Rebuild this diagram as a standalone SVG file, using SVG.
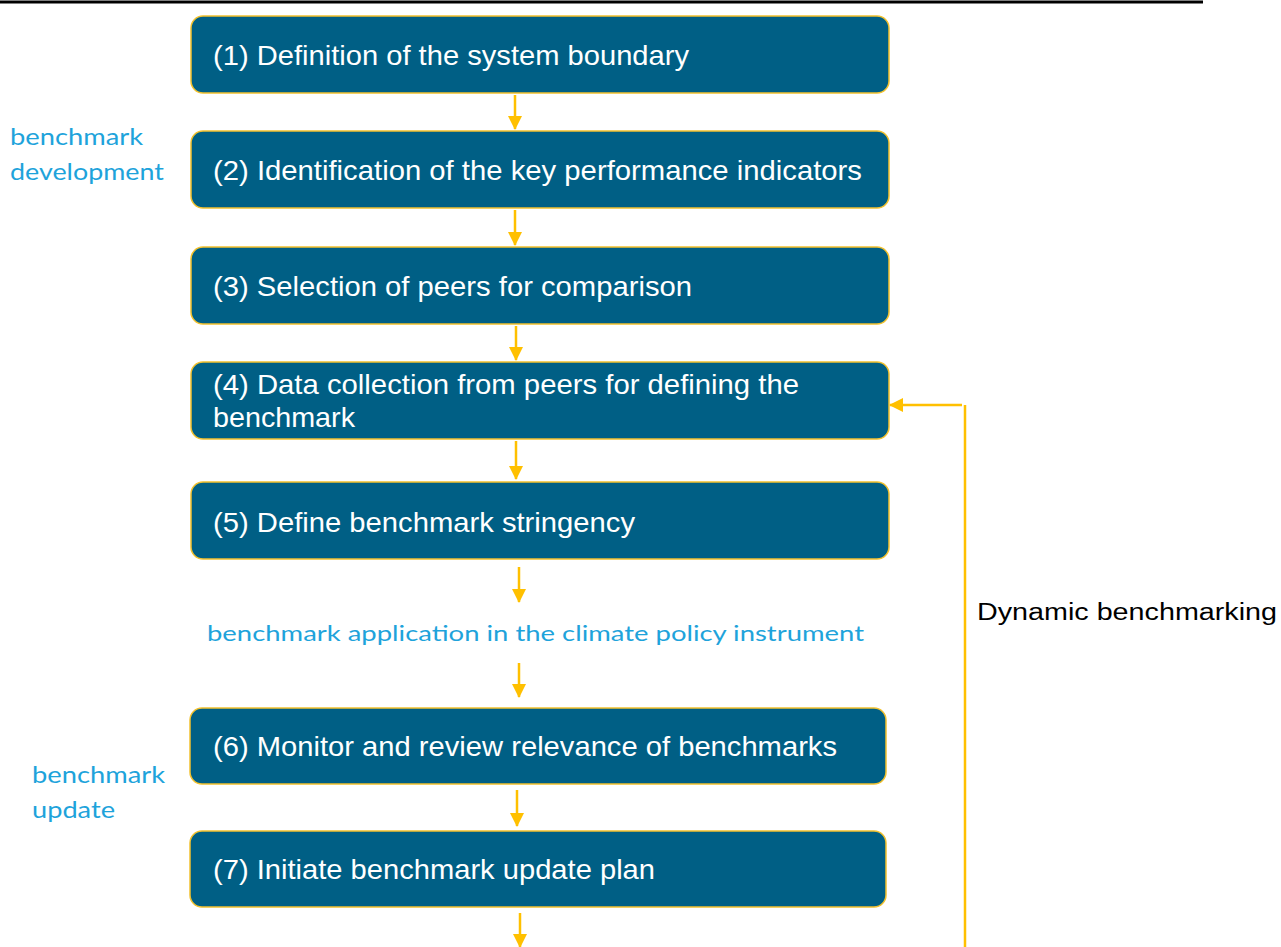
<svg xmlns="http://www.w3.org/2000/svg" width="1281" height="947" viewBox="0 0 1281 947">
<style>
.box{fill:#005F85;stroke:#F2C12E;stroke-width:1.5}
.bt{font-family:"Liberation Sans",Arial,sans-serif;font-size:28px;fill:#ffffff}
.lbl{font-family:Lato,"Open Sans",sans-serif;font-size:24px;fill:#1EA3DB}
.con{stroke:#FFC000;stroke-width:2.5;fill:none}
</style>
<defs>
<marker id="ah" markerWidth="14" markerHeight="14" refX="13" refY="7" orient="auto" markerUnits="userSpaceOnUse">
<path d="M0,0 L14,7 L0,14 z" fill="#FFC000"/>
</marker>
</defs>
<rect width="1281" height="947" fill="#ffffff"/>
<line x1="0" y1="2" x2="1203" y2="2" stroke="#000" stroke-width="3"/>

<g id="n1"><rect class="box" x="191" y="16" width="698" height="77" rx="12"/><text class="bt" x="213" y="65" textLength="476" lengthAdjust="spacingAndGlyphs">(1) Definition of the system boundary</text></g>
<g id="n2"><rect class="box" x="191" y="131" width="698" height="77" rx="12"/><text class="bt" x="213" y="180" textLength="649" lengthAdjust="spacingAndGlyphs">(2) Identification of the key performance indicators</text></g>
<g id="n3"><rect class="box" x="191" y="247" width="698" height="77" rx="12"/><text class="bt" x="213" y="296" textLength="479" lengthAdjust="spacingAndGlyphs">(3) Selection of peers for comparison</text></g>
<g id="n4"><rect class="box" x="191" y="362" width="698" height="77" rx="12"/><text class="bt" x="213" y="394" textLength="586" lengthAdjust="spacingAndGlyphs">(4) Data collection from peers for defining the</text><text class="bt" x="213" y="427" textLength="142" lengthAdjust="spacingAndGlyphs">benchmark</text></g>
<g id="n5"><rect class="box" x="191" y="482" width="698" height="77" rx="12"/><text class="bt" x="213" y="532" textLength="422" lengthAdjust="spacingAndGlyphs">(5) Define benchmark stringency</text></g>
<g id="n6"><rect class="box" x="190" y="708" width="696" height="76" rx="12"/><text class="bt" x="213" y="756" textLength="624" lengthAdjust="spacingAndGlyphs">(6) Monitor and review relevance of benchmarks</text></g>
<g id="n7"><rect class="box" x="190" y="831" width="696" height="76" rx="12"/><text class="bt" x="213" y="879" textLength="442" lengthAdjust="spacingAndGlyphs">(7) Initiate benchmark update plan</text></g>

<g id="labels">
<text class="lbl" x="10" y="145" textLength="133" lengthAdjust="spacingAndGlyphs">benchmark</text>
<text class="lbl" x="10" y="180" textLength="154" lengthAdjust="spacingAndGlyphs">development</text>
<text class="lbl" x="32" y="783" textLength="133" lengthAdjust="spacingAndGlyphs">benchmark</text>
<text class="lbl" x="32" y="818" textLength="83" lengthAdjust="spacingAndGlyphs">update</text>
<text class="lbl" x="207" y="641" style="font-size:22px" textLength="657" lengthAdjust="spacingAndGlyphs">benchmark application in the climate policy instrument</text>
<text x="977" y="620" style="font-family:'Liberation Sans',Arial,sans-serif;font-size:23px;fill:#000" textLength="300" lengthAdjust="spacingAndGlyphs">Dynamic benchmarking</text>
</g>

<g id="connectors">
<line class="con" x1="515" y1="95" x2="515" y2="129" marker-end="url(#ah)"/>
<line class="con" x1="515" y1="210" x2="515" y2="245" marker-end="url(#ah)"/>
<line class="con" x1="516" y1="326" x2="516" y2="360" marker-end="url(#ah)"/>
<line class="con" x1="516" y1="441" x2="516" y2="479" marker-end="url(#ah)"/>
<line class="con" x1="519" y1="567" x2="519" y2="602" marker-end="url(#ah)"/>
<line class="con" x1="519" y1="663" x2="519" y2="697" marker-end="url(#ah)"/>
<line class="con" x1="517" y1="790" x2="517" y2="826" marker-end="url(#ah)"/>
<line class="con" x1="520" y1="913" x2="520" y2="947" marker-end="url(#ah)"/>
<line class="con" x1="965" y1="405" x2="965" y2="947"/>
<line class="con" x1="962" y1="405" x2="890" y2="405" marker-end="url(#ah)"/>
</g>
</svg>
